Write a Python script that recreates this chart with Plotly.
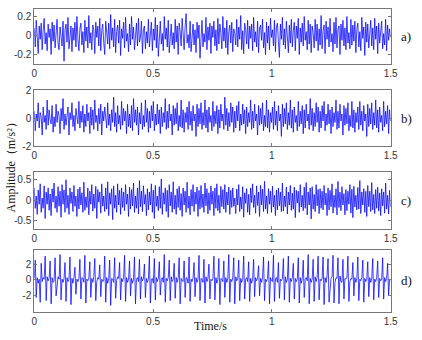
import numpy as np
import plotly.graph_objects as go

# ---- data (samples evenly spaced over 0-1.5 s) ----
sig_a = [0.08,-0.12,0.16,0.02,-0.19,0.1,-0.04,0.13,-0.15,0.05,0.18,-0.09,0.03,-0.16,0.12,-0.02,0.07,-0.2,0.14,-0.06,
         0.11,-0.13,0.04,0.17,-0.08,-0.15,0.09,0.01,-0.11,0.15,-0.27,0.06,0.12,-0.07,0.19,-0.14,0.02,0.1,-0.17,0.08,
         -0.05,0.14,-0.12,0.2,-0.03,-0.16,0.07,0.13,-0.1,0.04,-0.18,0.16,-0.06,0.09,-0.13,0.21,-0.08,0.03,-0.15,0.11,
         0.06,-0.19,0.14,-0.02,0.1,-0.11,0.18,-0.16,0.05,0.12,-0.07,-0.2,0.15,0.01,-0.09,0.13,-0.14,0.22,-0.05,0.08,
         -0.12,0.17,-0.18,0.04,0.11,-0.08,0.16,-0.21,0.07,-0.03,0.14,-0.13,0.19,-0.06,0.02,-0.17,0.12,-0.1,0.2,-0.04,
         0.09,-0.15,0.03,0.13,-0.11,0.18,-0.07,-0.02,0.15,-0.19,0.06,0.1,-0.14,0.04,-0.08,0.17,-0.12,0.01,0.14,-0.16,
         0.07,-0.05,0.19,-0.13,0.11,-0.22,0.05,0.15,-0.09,0.02,-0.16,0.2,-0.04,0.08,-0.12,0.16,-0.18,0.06,0.12,-0.1,
         0.03,-0.14,0.17,-0.07,0.1,-0.2,0.13,0.04,-0.11,0.18,-0.06,-0.15,0.09,0.23,-0.08,0.01,-0.13,0.15,-0.17,0.05,
         0.12,-0.1,0.06,-0.18,0.14,-0.03,0.11,-0.24,0.08,0.16,-0.12,0.02,-0.07,0.19,-0.15,0.09,-0.05,0.13,-0.19,0.1,
         -0.02,0.15,-0.11,0.06,-0.16,0.18,-0.09,0.12,0.03,-0.14,0.2,-0.06,0.08,-0.13,0.16,-0.2,0.04,0.11,-0.08,0.14,
         -0.17,0.07,0.02,-0.1,0.17,-0.12,0.09,-0.04,0.21,-0.15,0.05,-0.19,0.13,0.06,-0.09,0.16,-0.14,0.1,-0.03,0.12,
         -0.16,0.19,-0.07,0.04,-0.12,0.15,-0.18,0.08,0.11,-0.05,0.17,-0.13,0.03,-0.2,0.14,-0.08,0.1,-0.15,0.18,-0.02,
         0.06,-0.11,0.16,-0.17,0.09,0.13,-0.06,-0.23,0.12,-0.04,0.19,-0.1,0.07,-0.14,0.15,0.02,-0.18,0.11,-0.08,0.17,
         -0.12,0.05,0.14,-0.16,0.1,-0.03,0.18,-0.2,0.08,-0.07,0.13,-0.11,0.2,-0.05,0.04,-0.15,0.16,-0.09,0.12,-0.18,
         0.1,0.03,-0.13,0.17,-0.06,0.12,-0.16,0.07,-0.1,0.21,-0.14,0.05,0.11,-0.19,0.15,-0.04,0.09,-0.12,0.18,-0.07,
         0.02,-0.17,0.14,-0.09,0.19,-0.13,0.06,0.1,-0.2,0.12,-0.05,0.16,-0.11,0.08,-0.15,0.2,-0.08,0.03,-0.14,0.17,
         -0.1,0.11,-0.06,0.15,-0.18,0.07,0.13,-0.12,0.04,-0.16,0.19,-0.03,0.09,-0.21,0.14,-0.07,0.12,-0.13,0.05,0.16,
         -0.11,0.08,-0.15,0.18,-0.04,0.1,-0.19,0.13,-0.08,0.06,0.15,-0.14,0.02,-0.1,0.17,-0.16,0.11,-0.05,0.07,-0.02]

sig_b = [0.5,-0.9,0.3,-0.2,1.1,-0.7,0.4,0.1,-1.2,0.8,-0.3,0.2,-0.8,1.3,-0.5,0.6,-0.1,-0.4,0.9,-1.0,
         0.1,-0.6,1.0,-0.3,0.5,0.2,-1.1,0.7,-0.2,1.4,-0.8,0.3,-0.5,0.0,0.8,-1.2,0.4,-0.1,1.1,-0.6,
         0.2,-0.9,0.7,0.1,-0.4,1.2,-0.7,0.5,-0.3,0.9,-1.0,0.3,-0.6,1.0,-0.2,0.4,-1.1,0.8,-0.5,0.6,
         -0.8,1.3,-0.3,0.2,-0.9,0.7,-0.4,1.0,-1.2,0.5,-0.2,0.8,0.1,-0.7,1.1,-0.5,0.3,-0.9,0.6,-0.3,
         1.5,-0.6,0.4,-1.0,0.9,-0.4,0.2,-0.8,1.2,-0.5,0.7,-0.2,0.5,-1.1,1.0,-0.6,0.3,-0.7,0.9,-0.9,
         1.4,-0.3,0.6,-0.5,0.8,-1.2,0.4,-0.4,1.1,-0.8,0.2,-0.6,1.3,-0.3,0.7,-1.0,0.5,-0.7,0.9,-0.2,
         1.2,-0.9,0.3,-0.5,1.0,-0.4,0.6,-1.1,0.8,-0.6,0.4,-0.3,1.4,-0.8,0.5,-0.7,1.0,-0.2,0.3,-1.2,
         0.9,-0.5,0.7,-0.4,1.1,-0.9,0.2,-0.6,1.3,-0.7,0.6,-1.0,0.4,-0.3,0.8,-0.8,1.2,-0.5,0.5,-0.9,
         0.9,-0.2,0.3,-1.3,1.0,-0.6,0.7,-0.4,1.1,-0.8,0.4,-0.5,1.3,-0.7,0.6,-1.0,0.8,-0.3,0.2,-0.9,
         1.2,-0.6,0.5,-0.4,0.9,-1.1,0.6,-0.7,1.0,-0.2,0.3,-0.8,1.5,-0.5,0.7,-0.9,0.4,-0.6,1.1,-0.3,
         0.8,-1.0,0.5,-0.7,0.9,-0.2,1.2,-0.9,0.3,-0.5,1.0,-0.4,0.6,-1.1,0.8,-0.6,0.4,-0.3,1.3,-0.8,
         0.5,-0.7,1.0,-0.2,0.3,-1.2,0.9,-0.5,0.7,-0.4,1.1,-0.9,0.2,-0.6,1.3,-0.7,0.6,-1.0,0.4,-0.3,
         0.8,-0.8,1.2,-0.5,0.5,-0.9,0.9,-0.2,0.3,-1.3,1.0,-0.6,0.7,-0.4,1.1,-0.8,0.4,-0.5,1.3,-0.7,
         0.6,-1.0,0.8,-0.3,0.2,-0.9,1.2,-0.6,0.5,-0.4,0.9,-1.1,0.6,-0.7,1.0,-0.2,0.3,-0.8,1.4,-0.5,
         0.7,-0.9,0.4,-0.6,1.1,-0.3,0.8,-1.0,0.5,-0.7,0.9,-0.2,1.2,-0.9,0.3,-0.5,1.0,-0.4,0.6,-1.1,
         0.8,-0.6,0.4,-0.3,1.3,-0.8,0.5,-0.7,1.0,-0.2,0.3,-1.2,0.9,-0.5,0.7,-0.4,1.1,-0.9,0.2,-0.6,
         1.2,-0.7,0.6,-1.0,0.4,-0.3,0.8,-0.8,1.2,-0.5,0.5,-0.9,0.9,-0.2,0.3,-1.3,1.0,-0.6,0.7,-0.4,
         1.1,-0.8,0.4,-0.5,1.3,-0.7,0.6,-1.0,0.8,-0.3,0.2,-0.9,1.2,-0.6,0.5,-0.4,0.9,-1.1,0.6,-0.2]

sig_c = [0.3,-0.2,0.1,-0.35,0.25,-0.1,0.4,-0.3,0.05,-0.2,0.35,-0.45,0.2,-0.1,0.3,-0.25,0.15,-0.38,0.28,-0.05,
         0.42,-0.2,0.1,-0.3,0.33,-0.15,0.22,-0.42,0.38,-0.1,0.25,-0.3,0.5,-0.2,0.12,-0.35,0.3,-0.08,0.2,-0.28,
         0.36,-0.15,0.1,-0.4,0.27,-0.22,0.32,-0.12,0.18,-0.3,0.44,-0.25,0.08,-0.18,0.3,-0.36,0.22,-0.1,0.38,-0.27,
         0.15,-0.2,0.34,-0.45,0.26,-0.05,0.2,-0.32,0.4,-0.15,0.1,-0.28,0.3,-0.22,0.45,-0.38,0.18,-0.1,0.28,-0.48,
         0.35,-0.2,0.12,-0.3,0.4,-0.12,0.24,-0.35,0.3,-0.18,0.2,-0.26,0.38,-0.1,0.15,-0.4,0.32,-0.22,0.26,-0.14,
         0.42,-0.3,0.1,-0.2,0.3,-0.34,0.48,-0.16,0.22,-0.28,0.35,-0.1,0.14,-0.38,0.28,-0.24,0.2,-0.12,0.4,-0.3,
         0.25,-0.45,0.36,-0.15,0.1,-0.26,0.33,-0.2,0.52,-0.35,0.18,-0.1,0.3,-0.28,0.24,-0.42,0.38,-0.14,0.2,-0.3,
         0.45,-0.22,0.12,-0.35,0.28,-0.18,0.34,-0.25,0.16,-0.4,0.3,-0.12,0.22,-0.3,0.44,-0.2,0.1,-0.36,0.26,-0.15,
         0.38,-0.28,0.2,-0.1,0.32,-0.4,0.24,-0.22,0.36,-0.18,0.15,-0.3,0.42,-0.14,0.28,-0.34,0.18,-0.25,0.35,-0.1,
         0.22,-0.38,0.3,-0.2,0.4,-0.26,0.12,-0.32,0.34,-0.16,0.26,-0.22,0.38,-0.3,0.2,-0.12,0.32,-0.35,0.24,-0.18,
         0.3,-0.15,0.05,-0.33,0.27,-0.12,0.38,-0.28,0.08,-0.22,0.33,-0.42,0.18,-0.08,0.28,-0.3,0.14,-0.36,0.3,-0.06,
         0.4,-0.18,0.12,-0.32,0.35,-0.13,0.2,-0.4,0.36,-0.12,0.27,-0.28,0.46,-0.22,0.1,-0.33,0.28,-0.1,0.22,-0.3,
         0.34,-0.17,0.12,-0.38,0.25,-0.24,0.3,-0.14,0.2,-0.28,0.42,-0.27,0.1,-0.16,0.32,-0.34,0.2,-0.12,0.36,-0.25,
         0.17,-0.22,0.32,-0.43,0.24,-0.07,0.22,-0.3,0.38,-0.17,0.12,-0.26,0.32,-0.2,0.43,-0.36,0.2,-0.12,0.3,-0.46,
         0.33,-0.22,0.14,-0.28,0.38,-0.14,0.26,-0.33,0.28,-0.2,0.22,-0.24,0.36,-0.12,0.17,-0.38,0.3,-0.24,0.24,-0.16,
         0.4,-0.32,0.12,-0.18,0.28,-0.36,0.46,-0.18,0.2,-0.26,0.33,-0.12,0.16,-0.36,0.26,-0.26,0.22,-0.1,0.38,-0.32,
         0.27,-0.43,0.34,-0.17,0.12,-0.24,0.31,-0.22,0.48,-0.33,0.2,-0.12,0.28,-0.3,0.22,-0.4,0.36,-0.16,0.22,-0.28,
         0.43,-0.24,0.14,-0.33,0.26,-0.2,0.32,-0.27,0.18,-0.38,0.28,-0.14,0.2,-0.32,0.42,-0.22,0.12,-0.34,0.24,-0.17]

sig_d = [0.2,2.5,-2.2,0.3,-0.4,0.1,-2.8,2.1,-0.2,0.3,0.1,3.0,-2.6,0.4,-0.1,0.2,2.4,-3.0,0.3,-0.3,
         -0.1,2.8,-2.0,-0.2,0.4,0.1,3.2,-2.5,0.1,-0.3,0.2,2.2,-2.7,0.3,-0.2,0.1,2.9,-3.1,0.2,-0.4,
         0.3,1.6,-1.8,0.1,-0.2,0.2,2.6,-2.4,0.3,0.2,-0.3,3.1,-2.9,0.1,-0.1,0.3,2.3,-2.2,0.2,-0.3,
         0.4,2.7,-2.6,-0.2,0.3,0.1,1.9,-2.1,0.1,-0.2,-0.1,3.0,-2.8,0.3,-0.4,0.2,2.5,-3.2,0.2,0.1,
         -0.3,2.8,-2.3,-0.1,0.4,0.2,2.2,-2.5,0.2,-0.2,0.3,3.1,-2.7,0.3,-0.3,0.1,2.4,-2.0,0.2,-0.4,
         0.1,2.9,-3.0,0.1,0.3,-0.2,2.6,-2.4,0.4,-0.1,0.2,2.0,-2.2,0.2,-0.3,0.1,3.0,-2.9,0.1,0.2,
         -0.4,2.7,-2.5,0.3,-0.2,0.2,2.3,-1.9,0.1,0.3,-0.3,3.2,-2.8,0.2,-0.1,0.3,2.5,-2.6,0.4,-0.2,
         0.1,2.1,-2.3,0.3,-0.3,0.2,2.8,-3.0,0.2,-0.1,-0.2,2.4,-2.2,0.3,0.2,-0.4,2.9,-2.7,0.1,-0.2,
         0.3,2.2,-2.1,0.3,-0.3,0.1,3.1,-2.6,0.2,0.1,-0.3,2.6,-2.9,0.4,-0.2,0.2,2.0,-2.4,0.1,-0.1,
         0.2,3.0,-2.5,0.3,-0.4,0.1,2.7,-3.1,0.2,0.1,-0.2,2.4,-2.2,0.3,-0.3,0.2,3.2,-2.8,0.1,-0.2,
         0.3,2.8,-3.0,0.4,-0.1,0.2,2.5,-2.6,0.2,-0.3,0.1,3.0,-2.4,0.1,0.3,-0.2,2.3,-2.7,0.2,-0.4,
         0.1,2.6,-2.1,0.3,-0.1,0.2,1.8,-2.0,0.2,-0.3,0.3,2.9,-2.6,0.1,-0.2,0.2,2.4,-3.0,0.3,-0.1,
         -0.2,3.1,-2.7,0.2,0.3,-0.3,2.2,-2.3,0.1,-0.1,0.2,2.7,-2.5,0.4,-0.3,0.1,3.0,-2.8,0.2,-0.2,
         0.3,2.1,-2.4,0.2,-0.2,0.1,2.8,-2.9,0.3,-0.4,0.2,2.5,-2.2,0.1,0.3,-0.1,3.2,-3.0,0.2,-0.3,
         0.1,2.6,-2.7,0.4,-0.2,0.3,3.0,-2.5,0.1,-0.1,0.2,2.9,-3.1,0.3,-0.3,0.5,2.7,-2.8,-0.4,0.2,
         0.4,3.1,-2.9,-0.3,0.3,0.2,2.8,-3.0,0.5,-0.2,-0.3,2.6,-2.4,0.2,0.1,0.3,3.0,-2.7,-0.2,0.2,
         0.1,2.2,-2.0,0.3,-0.3,0.2,2.9,-2.6,0.1,-0.1,0.3,2.5,-2.8,0.2,-0.2,0.1,2.3,-2.1,0.3,-0.3,
         0.2,2.7,-2.5,0.1,-0.2,0.3,2.4,-2.2,0.2,-0.1,0.1,2.8,-2.4,0.3,-0.2,0.2,2.1,-1.9,0.1,0.0]

panel_labels = ["a)", "b)", "c)", "d)"]
y_ranges = [[-0.3, 0.28], [-2, 2], [-0.72, 0.68], [-4, 3.8]]
y_tickvals = [[0.2, 0, -0.2], [2, 0, -2], [0.5, 0, -0.5], [2, 0, -2]]
y_ticktext = [["0.2", "0", "-0.2"], ["2", "0", "-2"], ["0.5", "0", "-0.5"], ["2", "0", "-2"]]
x_tickvals = [0, 0.5, 1, 1.5]
x_ticktext = ["0", "0.5", "1", "1.5"]
x_title = "Time/s"
y_title = "Amplitude（m/s²）"

signals = [sig_a, sig_b, sig_c, sig_d]

W, H = 422, 340
boxes = [(4, 61), (88, 146), (173, 232), (253, 317)]
x_left, x_right = 32, 397

fig = go.Figure()
tick_font = dict(family="Liberation Sans, Arial, sans-serif", size=10, color="#333")
serif = "Liberation Serif, Times New Roman, serif"

for i, sig in enumerate(signals):
    n = len(sig)
    t = np.linspace(0, 1.5, n)
    xa = "x" if i == 0 else f"x{i+1}"
    ya = "y" if i == 0 else f"y{i+1}"
    fig.add_trace(go.Scatter(x=t, y=sig, mode="lines",
                             line=dict(color="#0000ff", width=0.75),
                             xaxis=xa, yaxis=ya, showlegend=False,
                             hoverinfo="skip"))
    top, bot = boxes[i]
    ydom = [1 - bot / H, 1 - top / H]
    xname = "xaxis" if i == 0 else f"xaxis{i+1}"
    yname = "yaxis" if i == 0 else f"yaxis{i+1}"
    fig.update_layout(**{
        xname: dict(domain=[x_left / W, x_right / W], range=[0, 1.5],
                    anchor=ya, tickvals=x_tickvals, ticktext=x_ticktext,
                    showline=True, mirror="ticks", linecolor="#777", linewidth=1,
                    ticks="inside", ticklen=3, tickcolor="#777",
                    showgrid=False, zeroline=False, tickfont=tick_font,
                    fixedrange=True),
        yname: dict(domain=ydom, range=y_ranges[i], anchor=xa,
                    tickvals=y_tickvals[i], ticktext=y_ticktext[i],
                    showline=True, mirror="ticks", linecolor="#777", linewidth=1,
                    ticks="inside", ticklen=3, tickcolor="#777",
                    showgrid=False, zeroline=False, tickfont=tick_font,
                    fixedrange=True),
    })
    fig.add_annotation(text=panel_labels[i], xref="paper", yref="paper",
                       x=413 / W, y=1 - ((top + bot) / 2) / H,
                       showarrow=False, font=dict(family=serif, size=13, color="#111"),
                       xanchor="center", yanchor="middle")

fig.add_annotation(text=x_title, xref="paper", yref="paper",
                   x=213 / W, y=1 - 332 / H, showarrow=False,
                   font=dict(family=serif, size=12, color="#111"),
                   xanchor="center", yanchor="middle")
fig.add_annotation(text=y_title, xref="paper", yref="paper",
                   x=8 / W, y=1 - 165 / H, showarrow=False, textangle=-90,
                   font=dict(family=serif, size=12, color="#111"),
                   xanchor="center", yanchor="middle")

fig.update_layout(width=W, height=H, margin=dict(l=0, r=0, t=0, b=0),
                  paper_bgcolor="white", plot_bgcolor="white")
fig.write_html("out.html")
